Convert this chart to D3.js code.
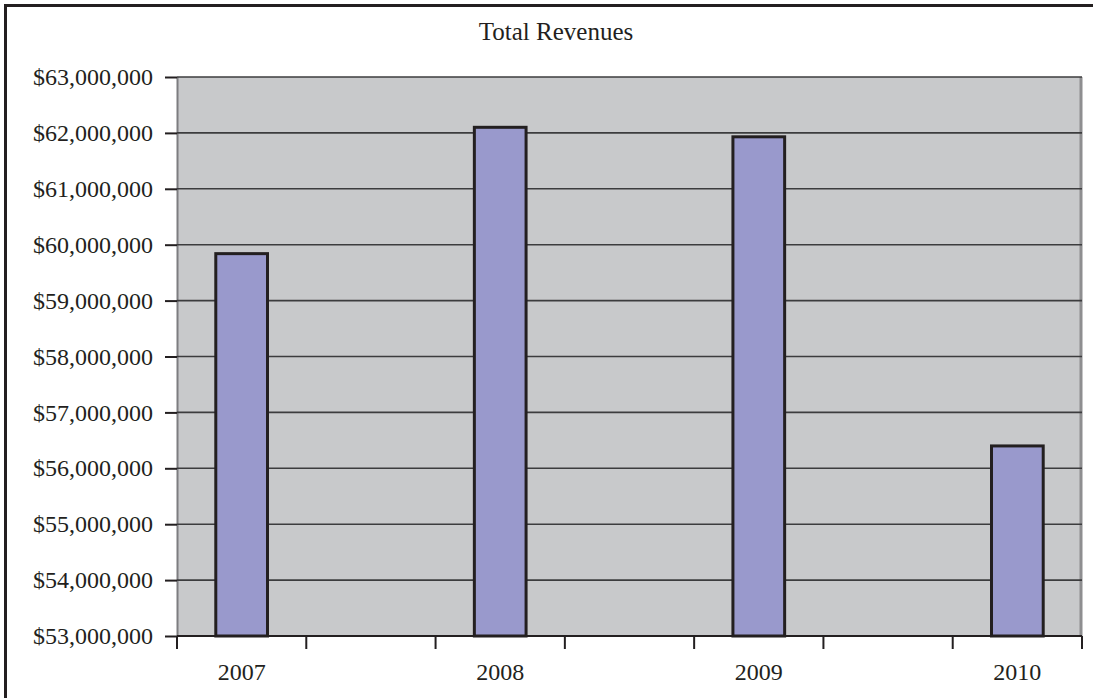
<!doctype html>
<html lang="en">
<head>
  <meta charset="utf-8">
  <title>Total Revenues</title>
  <script src="https://d3js.org/d3.v7.min.js"></script>
  <style>
    body { margin: 0; background: #fff; }
    svg text {
      font-family: "Liberation Serif", "Times New Roman", serif;
      fill: #231f20;
    }
    .plot-bg { fill: #c8c9cb; }
    .grid line { stroke: #3c3c3e; stroke-width: 1.6; }
    .bar { fill: #9999cc; stroke: #231f20; stroke-width: 3; }
  </style>
</head>
<body>
  <div id="chart"></div>
  <script>
    // chart data
    const years = [2007, 2008, 2009, 2010];
    const revenues = [59840000, 62100000, 61930000, 56400000];
    const yTicks = [53e6, 54e6, 55e6, 56e6, 57e6, 58e6, 59e6, 60e6, 61e6, 62e6, 63e6];
    const chartTitle = 'Total Revenues';

    const width = 1093;
    const height = 698;
    const margin = { top: 77, right: 11, bottom: 62, left: 177 };

    const svg = d3.select('#chart')
      .append('svg')
      .attr('width', width)
      .attr('height', height);

    // outer frame (only left and top edges show in the picture)
    svg.append('rect')
      .attr('x', 5.5)
      .attr('y', 5.5)
      .attr('width', 1110)
      .attr('height', 720)
      .attr('fill', 'none')
      .attr('stroke', '#231f20')
      .attr('stroke-width', 3);

    // x axis spans a quarter year either side of the first and last year
    const x = d3.scaleLinear()
      .domain([years[0] - 0.25, years[years.length - 1] + 0.25])
      .range([margin.left, width - margin.right]);

    const y = d3.scaleLinear()
      .domain([yTicks[0], yTicks[yTicks.length - 1]])
      .range([height - margin.bottom, margin.top]);

    // plot background
    svg.append('rect')
      .attr('class', 'plot-bg')
      .attr('x', x.range()[0])
      .attr('y', y.range()[1])
      .attr('width', x.range()[1] - x.range()[0])
      .attr('height', y.range()[0] - y.range()[1]);

    // left and right edges of the plot area
    svg.append('line')
      .attr('x1', x.range()[0] + 0.5).attr('x2', x.range()[0] + 0.5)
      .attr('y1', y.range()[1]).attr('y2', y.range()[0])
      .attr('stroke', '#7d7d80').attr('stroke-width', 2);
    svg.append('line')
      .attr('x1', x.range()[1] - 1).attr('x2', x.range()[1] - 1)
      .attr('y1', y.range()[1]).attr('y2', y.range()[0])
      .attr('stroke', '#8e8e90').attr('stroke-width', 3);

    // gridlines
    svg.append('g')
      .attr('class', 'grid')
      .selectAll('line')
      .data(yTicks)
      .join('line')
      .attr('x1', x.range()[0])
      .attr('x2', x.range()[1])
      .attr('y1', d => y(d))
      .attr('y2', d => y(d));

    // y axis
    const yAxis = d3.axisLeft(y)
      .tickValues(yTicks)
      .tickSize(12)
      .tickPadding(12)
      .tickFormat(d => '$' + d3.format(',')(d));

    svg.append('g')
      .attr('transform', `translate(${x.range()[0]},0)`)
      .call(yAxis)
      .call(g => g.select('.domain').remove())
      .call(g => g.selectAll('line').attr('stroke', '#231f20').attr('stroke-width', 2))
      .call(g => g.selectAll('text')
        .attr('fill', '#231f20')
        .style('font-family', '"Liberation Serif", serif')
        .style('font-size', '24px'));

    // bars
    const barHalf = 0.1;
    svg.append('g')
      .selectAll('rect')
      .data(years.map((yr, i) => ({ year: yr, value: revenues[i] })))
      .join('rect')
      .attr('class', 'bar')
      .attr('x', d => x(d.year - barHalf))
      .attr('width', d => x(d.year + barHalf) - x(d.year - barHalf))
      .attr('y', d => y(d.value))
      .attr('height', d => y(yTicks[0]) - y(d.value));

    // x axis: ticks every half year, labels at each year
    const xTicks = d3.range(0, years.length * 2).map(i => years[0] - 0.25 + i * 0.5);
    const xAxisG = svg.append('g')
      .attr('transform', `translate(0,${y.range()[0]})`);

    xAxisG.append('line')
      .attr('x1', x.range()[0])
      .attr('x2', x.range()[1])
      .attr('stroke', '#231f20')
      .attr('stroke-width', 2);

    xAxisG.selectAll('.tick')
      .data(xTicks)
      .join('line')
      .attr('class', 'tick')
      .attr('x1', d => x(d)).attr('x2', d => x(d))
      .attr('y1', 0).attr('y2', 13)
      .attr('stroke', '#231f20')
      .attr('stroke-width', 2);

    xAxisG.selectAll('text')
      .data(years)
      .join('text')
      .attr('x', d => x(d))
      .attr('y', 44)
      .attr('text-anchor', 'middle')
      .style('font-size', '24px')
      .text(d => d);

    // title
    svg.append('text')
      .attr('x', 556)
      .attr('y', 40)
      .attr('text-anchor', 'middle')
      .style('font-size', '25px')
      .text(chartTitle);
  </script>
</body>
</html>
